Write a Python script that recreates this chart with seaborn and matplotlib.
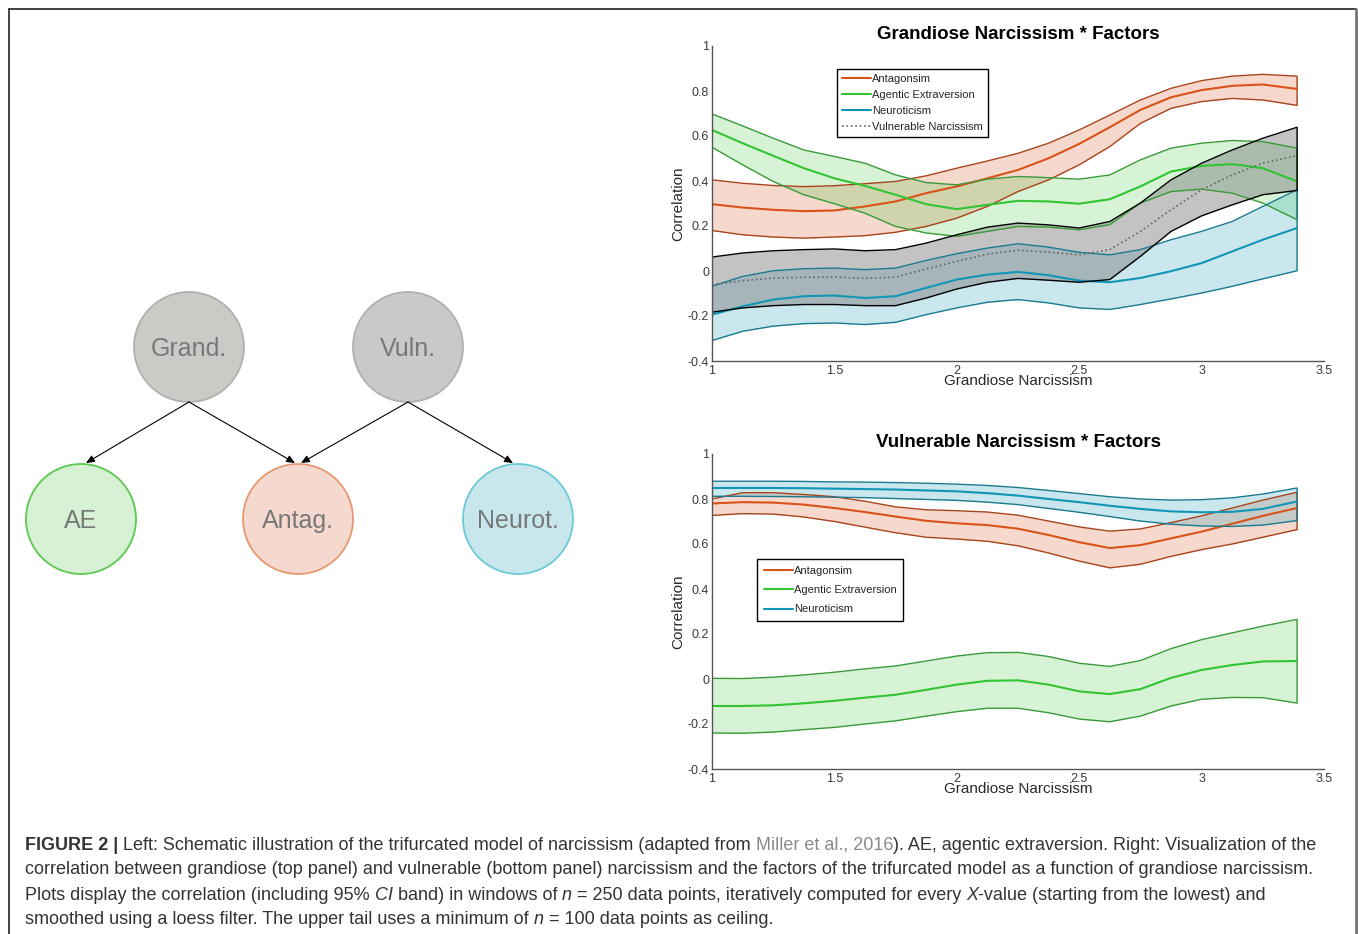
import numpy as np
import pandas as pd
import matplotlib
matplotlib.use("Agg")
import matplotlib.pyplot as plt
from matplotlib.patches import Circle
from matplotlib.lines import Line2D
import seaborn as sns

# ---- data ----
xs = [1.0, 1.125, 1.25, 1.375, 1.5, 1.625, 1.75, 1.875, 2.0, 2.125,
      2.25, 2.375, 2.5, 2.625, 2.75, 2.875, 3.0, 3.125, 3.25, 3.39]

# top panel: grandiose narcissism * factors
g_ant_hi = [0.405, 0.39, 0.38, 0.375, 0.379, 0.388, 0.398, 0.423, 0.457, 0.489,
            0.523, 0.568, 0.627, 0.693, 0.76, 0.812, 0.846, 0.866, 0.874, 0.866]
g_ant_mean = [0.297, 0.282, 0.272, 0.266, 0.269, 0.287, 0.309, 0.346, 0.376, 0.412,
              0.449, 0.501, 0.565, 0.639, 0.716, 0.772, 0.804, 0.823, 0.829, 0.809]
g_ant_lo = [0.18, 0.161, 0.151, 0.146, 0.151, 0.157, 0.172, 0.198, 0.235, 0.287,
            0.353, 0.405, 0.472, 0.553, 0.656, 0.723, 0.753, 0.767, 0.76, 0.736]
g_ae_hi = [0.698, 0.645, 0.59, 0.538, 0.509, 0.479, 0.427, 0.393, 0.383, 0.408,
           0.42, 0.415, 0.408, 0.427, 0.494, 0.546, 0.568, 0.58, 0.575, 0.546]
g_ae_mean = [0.627, 0.568, 0.512, 0.457, 0.412, 0.378, 0.339, 0.297, 0.275, 0.294,
             0.312, 0.309, 0.299, 0.319, 0.376, 0.442, 0.467, 0.475, 0.457, 0.398]
g_ae_lo = [0.55, 0.472, 0.398, 0.339, 0.299, 0.257, 0.198, 0.169, 0.154, 0.176,
           0.198, 0.195, 0.183, 0.206, 0.302, 0.353, 0.364, 0.346, 0.302, 0.228]
g_neu_hi = [-0.068, -0.024, 0.001, 0.01, 0.013, 0.006, 0.013, 0.047, 0.077, 0.102,
            0.121, 0.106, 0.083, 0.072, 0.095, 0.139, 0.176, 0.22, 0.287, 0.361]
g_neu_mean = [-0.194, -0.157, -0.127, -0.112, -0.109, -0.12, -0.112, -0.075, -0.038, -0.016,
              -0.004, -0.019, -0.043, -0.05, -0.031, -0.001, 0.035, 0.087, 0.139, 0.191]
g_neu_lo = [-0.309, -0.268, -0.245, -0.234, -0.231, -0.238, -0.228, -0.194, -0.164, -0.139,
            -0.127, -0.142, -0.164, -0.171, -0.149, -0.124, -0.098, -0.068, -0.035, 0.001]
g_vul_hi = [0.062, 0.08, 0.09, 0.095, 0.098, 0.09, 0.095, 0.124, 0.161, 0.195,
            0.213, 0.205, 0.191, 0.22, 0.302, 0.405, 0.479, 0.538, 0.59, 0.639]
g_vul_mean = [-0.061, -0.043, -0.031, -0.028, -0.027, -0.033, -0.027, 0.009, 0.043, 0.075,
              0.092, 0.084, 0.072, 0.095, 0.176, 0.272, 0.361, 0.427, 0.479, 0.513]
g_vul_lo = [-0.183, -0.164, -0.154, -0.149, -0.149, -0.154, -0.154, -0.12, -0.08, -0.05,
            -0.033, -0.041, -0.05, -0.038, 0.065, 0.176, 0.245, 0.294, 0.339, 0.358]

# bottom panel: vulnerable narcissism * factors
v_ant_hi = [0.80, 0.828, 0.828, 0.82, 0.81, 0.79, 0.765, 0.752, 0.748, 0.742,
            0.728, 0.702, 0.676, 0.657, 0.667, 0.695, 0.725, 0.76, 0.795, 0.83]
v_ant_mean = [0.78, 0.786, 0.784, 0.775, 0.76, 0.742, 0.722, 0.703, 0.692, 0.684,
              0.668, 0.64, 0.608, 0.582, 0.595, 0.625, 0.655, 0.69, 0.725, 0.76]
v_ant_lo = [0.727, 0.735, 0.733, 0.72, 0.70, 0.675, 0.65, 0.63, 0.622, 0.612,
            0.592, 0.56, 0.524, 0.494, 0.51, 0.545, 0.575, 0.60, 0.63, 0.664]
v_ae_hi = [0.003, 0.002, 0.008, 0.018, 0.03, 0.045, 0.058, 0.08, 0.102, 0.117,
           0.118, 0.10, 0.07, 0.056, 0.082, 0.135, 0.175, 0.205, 0.235, 0.265]
v_ae_mean = [-0.12, -0.12, -0.117, -0.108, -0.097, -0.083, -0.07, -0.048, -0.025, -0.008,
             -0.006, -0.025, -0.055, -0.067, -0.045, 0.005, 0.04, 0.062, 0.078, 0.08]
v_ae_lo = [-0.24, -0.241, -0.236, -0.225, -0.215, -0.20, -0.186, -0.165, -0.145, -0.13,
           -0.13, -0.15, -0.178, -0.19, -0.165, -0.12, -0.09, -0.082, -0.083, -0.107]
v_neu_hi = [0.879, 0.879, 0.879, 0.878, 0.876, 0.875, 0.873, 0.87, 0.866, 0.86,
            0.851, 0.838, 0.824, 0.81, 0.80, 0.795, 0.797, 0.805, 0.822, 0.849]
v_neu_mean = [0.849, 0.849, 0.849, 0.848, 0.846, 0.844, 0.842, 0.838, 0.834, 0.826,
              0.815, 0.80, 0.786, 0.77, 0.756, 0.745, 0.741, 0.743, 0.756, 0.789]
v_neu_lo = [0.812, 0.812, 0.811, 0.81, 0.808, 0.806, 0.802, 0.798, 0.794, 0.786,
            0.775, 0.758, 0.741, 0.722, 0.702, 0.688, 0.68, 0.678, 0.684, 0.704]

xticks = [1, 1.5, 2, 2.5, 3, 3.5]
xticklabels = ["1", "1.5", "2", "2.5", "3", "3.5"]
yticks = [-0.4, -0.2, 0, 0.2, 0.4, 0.6, 0.8, 1]
yticklabels = ["-0.4", "-0.2", "0", "0.2", "0.4", "0.6", "0.8", "1"]

# colours
ORANGE, ORANGE_E = "#d95319", "#a8441c"
GREEN, GREEN_E = "#33c433", "#3a9a3a"
BLUE, BLUE_E = "#1296b6", "#1a7a90"

sns.set_style("white")
plt.rcParams["font.family"] = ["Liberation Sans", "DejaVu Sans"]

W, H = 1358, 934
fig = plt.figure(figsize=(W / 100, H / 100), dpi=100)

# ---- left: schematic ----
ax0 = fig.add_axes([0, 0, 1, 1], zorder=0)
ax0.set_xlim(0, W)
ax0.set_ylim(H, 0)
ax0.axis("off")

nodes = {
    "Grand.": (189, 347, "#cbcac7", "#b0b0ae"),
    "Vuln.": (408, 347, "#c7cac9", "#afb1b0"),
    "AE": (81, 519, "#d6f1d3", "#5cc850"),
    "Antag.": (298, 519, "#f5d9cf", "#e59870"),
    "Neurot.": (518, 519, "#c8e7ec", "#6ccad4"),
}
for name, (cx, cy, fc, ec) in nodes.items():
    ax0.add_patch(Circle((cx, cy), 55, facecolor=fc, edgecolor=ec, lw=1.3))
    ax0.text(cx, cy + 2, name, ha="center", va="center", fontsize=18, color="#787878")

arrows = [("Grand.", "AE", 5), ("Grand.", "Antag.", -3), ("Vuln.", "Antag.", 3), ("Vuln.", "Neurot.", -5)]
for a, b, dx in arrows:
    x1, y1 = nodes[a][0], nodes[a][1] + 55
    x2, y2 = nodes[b][0] + dx, nodes[b][1] - 56
    ax0.annotate("", xy=(x2, y2), xytext=(x1, y1),
                 arrowprops=dict(arrowstyle="-|>,head_length=0.5,head_width=0.22",
                                 color="black", lw=0.8, shrinkA=0, shrinkB=0))

# figure frame
fig.add_artist(Line2D([8.5 / W, 8.5 / W], [0, 1 - 8.5 / H], color="#222222", lw=1.2))
fig.add_artist(Line2D([8.5 / W, 1355.5 / W], [1 - 8.5 / H, 1 - 8.5 / H], color="#222222", lw=1.2))
fig.add_artist(Line2D([1355.5 / W, 1355.5 / W], [0, 1 - 8.5 / H], color="#777777", lw=2))


# ---- right: correlation panels ----
def band(ax, x, mean, lo, hi, color, edge, fill_alpha, label, ls="-"):
    df = pd.DataFrame({"x": x, "mean": mean, "lo": lo, "hi": hi})
    ax.fill_between(df["x"], df["lo"], df["hi"], color=color, alpha=fill_alpha, lw=0)
    outline_x = np.concatenate([df["x"], df["x"][::-1]])
    outline_y = np.concatenate([df["hi"], df["lo"][::-1]])
    ax.plot(outline_x, outline_y, color=edge, lw=1.0)
    line_color = "#666666" if ls == ":" else color
    sns.lineplot(data=df, x="x", y="mean", ax=ax, color=line_color, lw=1.5 if ls == "-" else 1.2,
                 linestyle=ls, label=label, sort=False)


def style_axes(ax, title):
    ax.set_xlim(1, 3.5)
    ax.set_ylim(-0.4, 1)
    ax.set_xticks(xticks)
    ax.set_xticklabels(xticklabels)
    ax.set_yticks(yticks)
    ax.set_yticklabels(yticklabels)
    ax.tick_params(direction="in", length=5, width=0.8, labelsize=9, colors="#3a3a3a",
                   pad=2, top=False, right=False)
    ax.tick_params(axis="x", pad=3)
    for s in ["top", "right"]:
        ax.spines[s].set_visible(False)
    for s in ["left", "bottom"]:
        ax.spines[s].set_color("#555555")
        ax.spines[s].set_linewidth(1.0)
    ax.set_xlabel("Grandiose Narcissism", fontsize=11, color="#2a2a2a", labelpad=-2)
    ax.set_ylabel("Correlation", fontsize=11, color="#2a2a2a", labelpad=2)
    ax.set_title(title, fontsize=13.5, fontweight="bold", color="black", pad=5)
    ax.patch.set_alpha(0)


ax1 = fig.add_axes([712 / W, 1 - 361 / H, 612 / W, 315 / H])
band(ax1, xs, g_ant_mean, g_ant_lo, g_ant_hi, ORANGE, ORANGE_E, 0.22, "Antagonsim")
band(ax1, xs, g_ae_mean, g_ae_lo, g_ae_hi, GREEN, GREEN_E, 0.2, "Agentic Extraversion")
band(ax1, xs, g_neu_mean, g_neu_lo, g_neu_hi, BLUE, BLUE_E, 0.22, "Neuroticism")
band(ax1, xs, g_vul_mean, g_vul_lo, g_vul_hi, "#7a7a7a", "black", 0.45, "Vulnerable Narcissism", ls=":")
style_axes(ax1, "Grandiose Narcissism * Factors")
ax1.legend(loc="upper left", bbox_to_anchor=(0.204, 0.927), fontsize=8, frameon=True,
           fancybox=False, edgecolor="black", framealpha=1, handlelength=2.6, handletextpad=0.1,
           labelspacing=0.55, borderpad=0.45, borderaxespad=0)

ax2 = fig.add_axes([712 / W, 1 - 769 / H, 612 / W, 315 / H])
band(ax2, xs, v_ant_mean, v_ant_lo, v_ant_hi, ORANGE, ORANGE_E, 0.22, "Antagonsim")
band(ax2, xs, v_ae_mean, v_ae_lo, v_ae_hi, GREEN, GREEN_E, 0.2, "Agentic Extraversion")
band(ax2, xs, v_neu_mean, v_neu_lo, v_neu_hi, BLUE, BLUE_E, 0.22, "Neuroticism")
style_axes(ax2, "Vulnerable Narcissism * Factors")
ax2.legend(loc="upper left", bbox_to_anchor=(0.0735, 0.667), fontsize=8, frameon=True,
           fancybox=False, edgecolor="black", framealpha=1, handlelength=2.6, handletextpad=0.1,
           labelspacing=0.85, borderpad=0.6, borderaxespad=0)

# ---- caption ----
renderer = fig.canvas.get_renderer()
CAP = 13.0
TXT = "#333333"


def width_of(s, **kw):
    t = fig.text(0, 0, "|" + s + "|", fontsize=CAP, **kw)
    bar = fig.text(0, 0, "|", fontsize=CAP, **kw)
    w = t.get_window_extent(renderer).width - 2 * bar.get_window_extent(renderer).width
    t.remove()
    bar.remove()
    return w


def rich_line(x, y, parts):
    for s, kw in parts:
        style = dict(color=TXT)
        style.update(kw)
        fig.text(x / W, 1 - y / H, s, fontsize=CAP, va="center", ha="left", **style)
        x += width_of(s, **{k: v for k, v in style.items() if k != "color"})


N = {}
B = {"fontweight": "bold"}
I = {"style": "italic"}
G = {"color": "#8a8a8a"}
rich_line(25, 845, [("FIGURE 2 |", B),
                    (" Left: Schematic illustration of the trifurcated model of narcissism (adapted from ", N),
                    ("Miller et al., 2016", G),
                    ("). AE, agentic extraversion. Right: Visualization of the", N)])
rich_line(25, 870, [("correlation between grandiose (top panel) and vulnerable (bottom panel) narcissism "
                     "and the factors of the trifurcated model as a function of grandiose narcissism.", N)])
rich_line(25, 895, [("Plots display the correlation (including 95% ", N), ("CI", I),
                    (" band) in windows of ", N), ("n", I),
                    (" = 250 data points, iteratively computed for every ", N), ("X", I),
                    ("-value (starting from the lowest) and", N)])
rich_line(25, 920, [("smoothed using a loess filter. The upper tail uses a minimum of ", N), ("n", I),
                    (" = 100 data points as ceiling.", N)])

fig.savefig("out.png", dpi=100)
